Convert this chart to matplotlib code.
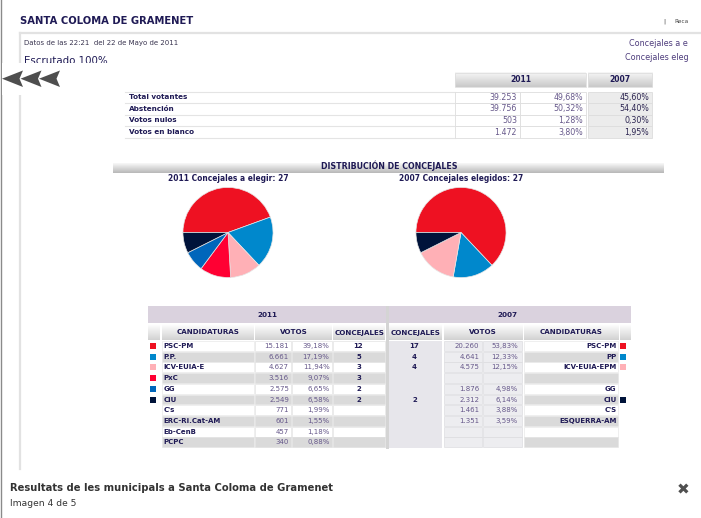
import matplotlib
matplotlib.use('Agg')
import matplotlib.pyplot as plt
import numpy as np
from matplotlib.patches import Rectangle, Polygon
from matplotlib.colors import to_rgb

# ---------------- data ----------------
summary_labels = ['Total votantes', 'Abstención', 'Votos nulos', 'Votos en blanco']
summary_n2011 = [39253, 39756, 503, 1472]
summary_p2011 = [49.68, 50.32, 1.28, 3.80]
summary_p2007 = [45.60, 54.40, 0.30, 1.95]

parties_2011 = ['PSC-PM', 'P.P.', 'ICV-EUIA-E', 'PxC', 'GG', 'CiU', "C's", 'ERC-Ri.Cat-AM', 'Eb-CenB', 'PCPC']
votes_2011 = [15181, 6661, 4627, 3516, 2575, 2549, 771, 601, 457, 340]
pct_2011 = [39.18, 17.19, 11.94, 9.07, 6.65, 6.58, 1.99, 1.55, 1.18, 0.88]
seats_2011 = [12, 5, 3, 3, 2, 2, 0, 0, 0, 0]
colors_2011 = ['#ee1122', '#0088cc', '#ffb0b6', '#ff0033', '#0066bb', '#00133a', None, None, None, None]

parties_2007 = ['PSC-PM', 'PP', 'ICV-EUIA-EPM', '', 'GG', 'CIU', "C'S", 'ESQUERRA-AM', '', '']
votes_2007 = [20260, 4641, 4575, None, 1876, 2312, 1461, 1351, None, None]
pct_2007 = [53.83, 12.33, 12.15, None, 4.98, 6.14, 3.88, 3.59, None, None]
seats_2007 = [17, 4, 4, 0, 0, 2, 0, 0, 0, 0]
colors_2007 = ['#ee1122', '#0088cc', '#ffb0b6', None, None, '#00133a', None, None, None, None]

title = 'SANTA COLOMA DE GRAMENET'
caption = 'Resultats de les municipals a Santa Coloma de Gramenet'
subcaption = 'Imagen 4 de 5'

# ---------------- canvas ----------------
W, H = 701, 518
fig = plt.figure(figsize=(W / 100, H / 100), dpi=100)
fig.patch.set_facecolor('white')
ax = fig.add_axes([0, 0, 1, 1])
ax.set_xlim(0, W)
ax.set_ylim(H, 0)
ax.axis('off')
renderer = fig.canvas.get_renderer()

NAVY = '#1f1a55'
VAL = '#66588a'


def txt(x, y, s, size=5.0, w=None, ha='left', va='center', color=NAVY, weight='normal', z=6):
    t = ax.text(x, y, s, fontsize=size, ha=ha, va=va, color=color, fontweight=weight,
                family='DejaVu Sans', zorder=z)
    if w:
        bb = t.get_window_extent(renderer=renderer)
        t.set_fontsize(size * w / bb.width)
    return t


def rect(x0, y0, x1, y1, fc, ec='none', lw=0.0, z=1):
    ax.add_patch(Rectangle((x0, y0), x1 - x0, y1 - y0, facecolor=fc, edgecolor=ec,
                           linewidth=lw, zorder=z))


def grad(x0, y0, x1, y1, ctop, cbot, z=1):
    a = np.array(to_rgb(ctop))
    b = np.array(to_rgb(cbot))
    t = np.linspace(0, 1, 32)[:, None]
    img = (a * (1 - t) + b * t)[:, None, :]
    ax.imshow(img, extent=(x0, x1, y1, y0), aspect='auto', zorder=z, interpolation='bilinear')


def fnum(v):
    return f'{v:,}'.replace(',', '.')


def fpct(p):
    return f'{p:.2f}'.replace('.', ',') + '%'


# ---------------- frame ----------------
ax.plot([1, 1], [0, H], color='#8a8a8a', lw=1.0, zorder=2)
ax.plot([19.5, W], [32.5, 32.5], color='#e2e2e2', lw=1.6, zorder=2)
ax.plot([19.5, 19.5], [32.5, 469], color='#e2e2e2', lw=1.6, zorder=2)

txt(20, 20.5, title, size=7.2, w=173, weight='bold', color=NAVY)
txt(663, 21, '|', size=4.5, color='#444444')
txt(674, 21.5, 'Reca', size=4.5, w=14, color='#444444')
txt(24, 43.5, 'Datos de las 22:21  del 22 de Mayo de 2011', size=5.0, w=156, color='#3a3550')
txt(24, 64.0, 'Escrutado 100%', size=7.5, w=84, va='baseline', color=NAVY)
lnk = txt(629, 43.5, 'Concejales a e', size=6, w=59, color='#4d3c7c')
txt(625, 57.5, 'Concejales eleg', size=lnk.get_fontsize(), color='#4d3c7c')

# overlay that hides the lower part of "Escrutado" and the arrows
rect(2, 63.3, 118, 95, 'white', z=7)
for x0 in [2, 20.5, 39]:
    ax.add_patch(Polygon([(x0, 78.7), (x0 + 21, 70.5), (x0 + 17.5, 78.7), (x0 + 21, 87)],
                         closed=True, facecolor='#4e4e4e', edgecolor='none', zorder=8))

# ---------------- summary table ----------------
grad(455, 72.7, 586, 87.3, '#f7f7f7', '#c9c9c9', z=2)
grad(587.5, 72.7, 652, 87.3, '#f7f7f7', '#c9c9c9', z=2)
rect(455, 72.7, 586, 87.3, 'none', ec='#dedede', lw=0.6, z=3)
rect(587.5, 72.7, 652, 87.3, 'none', ec='#dedede', lw=0.6, z=3)
txt(520.5, 80, '2011', size=5.6, w=21, ha='center', weight='bold', color=NAVY)
txt(619.5, 80, '2007', size=5.6, w=21, ha='center', weight='bold', color=NAVY)

r0, rh = 91.5, 11.6
lab_size = None
for i, lab in enumerate(summary_labels):
    y0 = r0 + i * rh
    y1 = y0 + rh
    yc = (y0 + y1) / 2
    ax.plot([125, 455], [y1, y1], color='#e4e4e4', lw=0.8, zorder=2)
    if i == 0:
        ax.plot([125, 455], [y0, y0], color='#e4e4e4', lw=0.8, zorder=2)
    rect(455, y0, 520, y1, 'white', ec='#dddddd', lw=0.6, z=2)
    rect(520, y0, 586, y1, 'white', ec='#dddddd', lw=0.6, z=2)
    rect(587.5, y0, 652, y1, '#ececec', ec='#dddddd', lw=0.6, z=2)
    if lab_size is None:
        t = txt(129, yc, lab, size=5.2, w=58.7, weight='bold', color=NAVY)
        lab_size = t.get_fontsize()
    else:
        txt(129, yc, lab, size=lab_size, weight='bold', color=NAVY)
    txt(517, yc, fnum(summary_n2011[i]), size=5.7, ha='right', color=VAL)
    txt(583, yc, fpct(summary_p2011[i]), size=5.7, ha='right', color=VAL)
    txt(649, yc, fpct(summary_p2007[i]), size=5.7, ha='right', color='#2b2450')

# ---------------- distribution band + pies ----------------
grad(113, 163.3, 664, 173.3, '#f8f8f8', '#b8b8b8', z=2)
txt(389, 166, 'DISTRIBUCIÓN DE CONCEJALES', size=5.5, w=137, ha='center', weight='bold', color=NAVY)
txt(228.5, 178.3, '2011 Concejales a elegir: 27', size=5.6, w=121, ha='center', weight='bold', color=NAVY)
txt(461, 178.3, '2007 Concejales elegidos: 27', size=5.6, w=124, ha='center', weight='bold', color=NAVY)


def pie(cx, cy, r, vals, cols):
    pa = fig.add_axes([(cx - r) / W, 1 - (cy + r) / H, 2 * r / W, 2 * r / H])
    pa.pie(vals, colors=cols, startangle=180, counterclock=False,
           wedgeprops=dict(edgecolor='#e6e6e6', linewidth=0.5))
    pa.set_xlim(-1.01, 1.01)
    pa.set_ylim(-1.01, 1.01)
    pa.axis('off')


s11 = [s for s in seats_2011 if s > 0]
c11 = [c for s, c in zip(seats_2011, colors_2011) if s > 0]
s07 = [s for s in seats_2007 if s > 0]
c07 = [c for s, c in zip(seats_2007, colors_2007) if s > 0]
pie(228, 232.5, 45.5, s11, c11)
pie(461, 232.5, 45.5, s07, c07)

# ---------------- results table ----------------
LAV = '#dad2de'
ALT = '#dadada'
rect(148, 306, 386, 323, LAV, z=2)
rect(389, 306, 630.5, 323, LAV, z=2)
txt(267, 315, '2011', size=5.2, w=20, ha='center', weight='bold', color=NAVY)
txt(507, 315, '2007', size=5.2, w=20, ha='center', weight='bold', color=NAVY)
rect(385.8, 306, 388.8, 448.5, '#d4d4d4', z=2)

sub = [(148, 160, ''), (161.7, 253.5, 'CANDIDATURAS'), (255, 332, 'VOTOS'), (333.3, 385.3, 'CONCEJALES'),
       (389, 442, 'CONCEJALES'), (443.5, 522, 'VOTOS'), (523.5, 618, 'CANDIDATURAS'), (619.5, 630.5, '')]
for x0, x1, s in sub:
    grad(x0, 324, x1, 340, '#ffffff', '#d2d2d2', z=2)
    if s:
        txt((x0 + x1) / 2, 332.5, s, size=5.1, ha='center', weight='bold', color=NAVY)

ry0, rrh = 341.0, 10.72
for i in range(len(parties_2011)):
    y0 = ry0 + i * rrh
    y1 = y0 + rrh - 0.9
    yc = y0 + rrh / 2 - 0.4
    alt = ALT if i % 2 == 1 else 'white'
    # 2011 side
    rect(161.7, y0, 253.5, y1, alt, ec='#e4e4e4', lw=0.4, z=2)
    rect(255, y0, 291.2, y1, alt, ec='#dcdcdc', lw=0.4, z=2)
    rect(292, y0, 332, y1, alt, ec='#dcdcdc', lw=0.4, z=2)
    rect(333.3, y0, 385.3, y1, alt, ec='#dcdcdc', lw=0.4, z=2)
    if colors_2011[i]:
        rect(150, yc - 3, 156, yc + 3, colors_2011[i], z=3)
    txt(163.5, yc, parties_2011[i], size=5.0, weight='bold', color=NAVY)
    txt(289, yc, fnum(votes_2011[i]), size=5.0, ha='right', color=VAL)
    txt(329.5, yc, fpct(pct_2011[i]), size=5.0, ha='right', color=VAL)
    if seats_2011[i]:
        txt(358.5, yc, str(seats_2011[i]), size=5.0, ha='center', weight='bold', color=NAVY)
    # 2007 side
    rect(389, y0, 442, y1 + 0.9, '#e7e6eb', z=2)
    rect(443.5, y0, 482, y1, '#ededf0', ec='#d8d8dc', lw=0.4, z=2)
    rect(483, y0, 522, y1, '#ededf0', ec='#d8d8dc', lw=0.4, z=2)
    rect(523.5, y0, 618, y1, alt, ec='#e4e4e4', lw=0.4, z=2)
    if colors_2007[i]:
        rect(619.5, yc - 3, 625.5, yc + 3, colors_2007[i], z=3)
    if parties_2007[i]:
        txt(616.5, yc, parties_2007[i], size=5.0, ha='right', weight='bold', color=NAVY)
    if votes_2007[i] is not None:
        txt(479.5, yc, fnum(votes_2007[i]), size=5.0, ha='right', color=VAL)
        txt(518, yc, fpct(pct_2007[i]), size=5.0, ha='right', color=VAL)
    if seats_2007[i]:
        txt(414.5, yc, str(seats_2007[i]), size=5.0, ha='center', weight='bold', color=NAVY)

# ---------------- caption ----------------
txt(10, 488, caption, size=8, w=321, weight='bold', color='#333333')
txt(10, 503, subcaption, size=7, w=66, color='#333333')
txt(683, 490, '✖', size=11, ha='center', color='#505050')

ax.set_xlim(0, W)
ax.set_ylim(H, 0)
fig.savefig('out.png', dpi=100, facecolor='white')
